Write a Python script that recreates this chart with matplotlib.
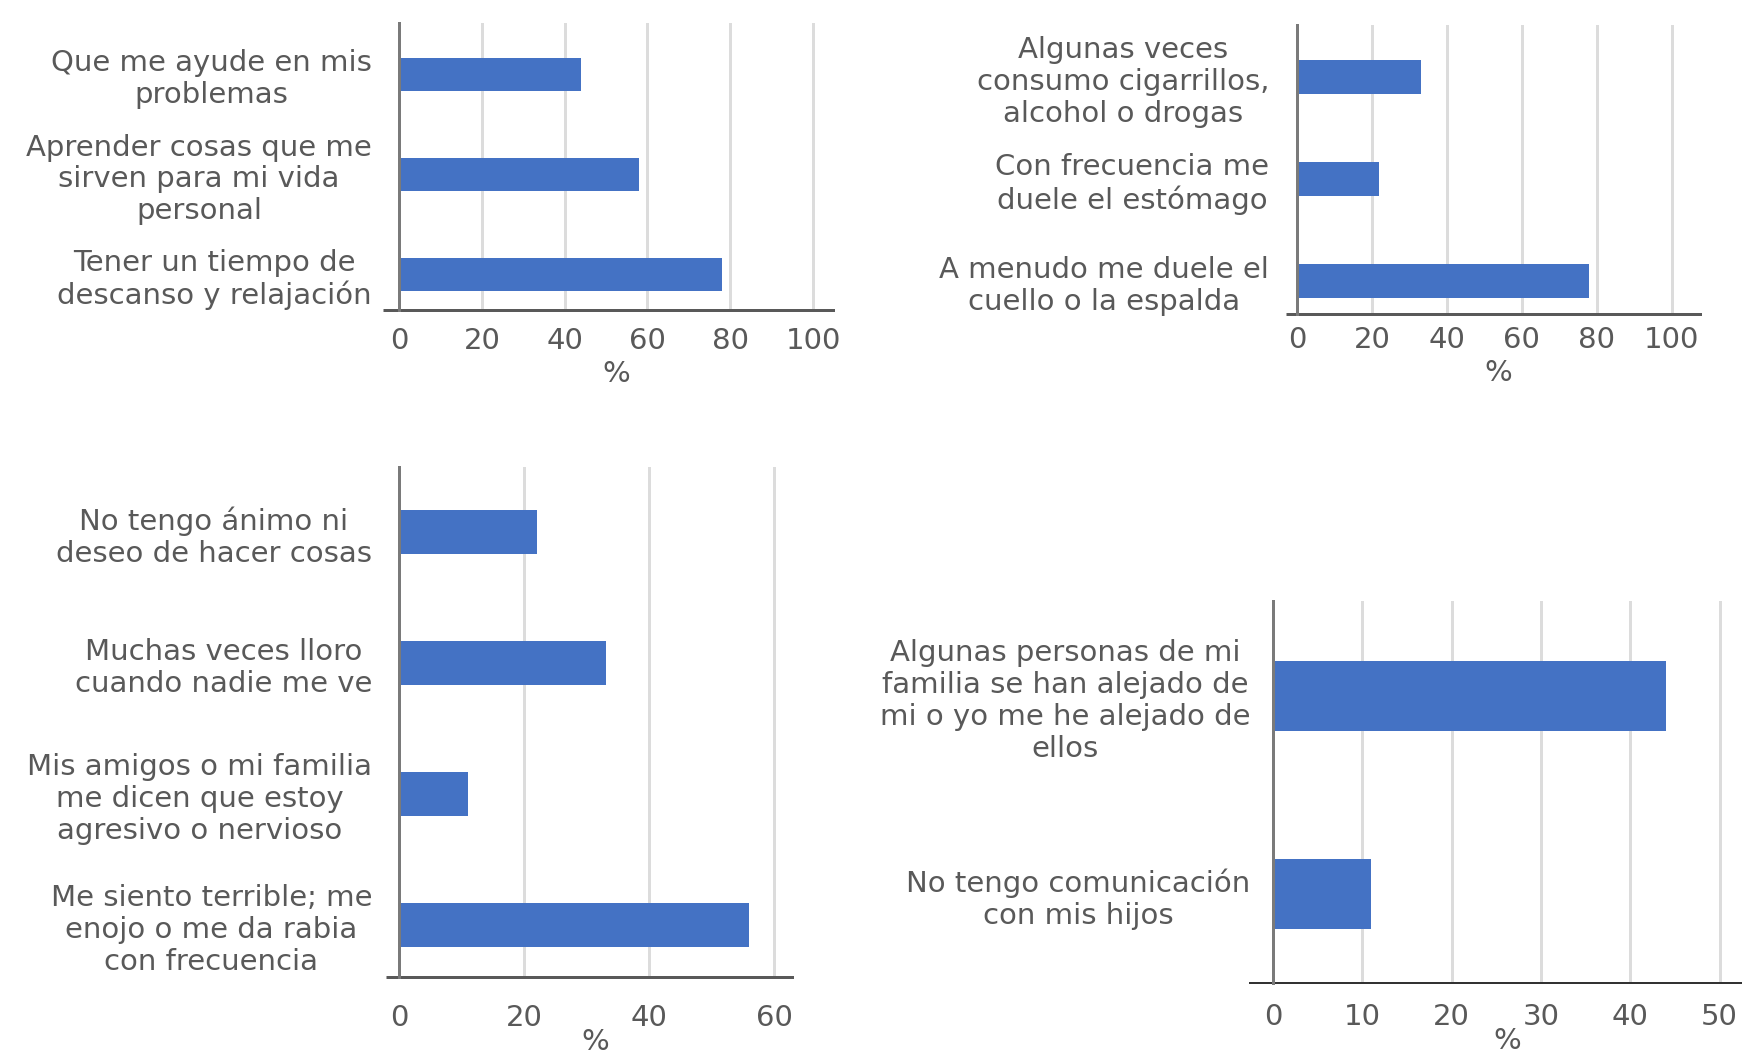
import matplotlib.pyplot as plt

W, H, DPI = 1742, 1055, 100
BLUE = "#4472C4"
TEXT = "#595959"
FS = 21

# datos (porcentajes)
razones = ["Que me ayude en mis\nproblemas",
           "Aprender cosas que me\nsirven para mi vida\npersonal",
           "Tener un tiempo de\ndescanso y relajación"]
razones_pct = [44, 58, 78]

sintomas = ["Algunas veces\nconsumo cigarrillos,\nalcohol o drogas",
            "Con frecuencia me\nduele el estómago",
            "A menudo me duele el\ncuello o la espalda"]
sintomas_pct = [33, 22, 78]

emociones = ["No tengo ánimo ni\ndeseo de hacer cosas",
             "Muchas veces lloro\ncuando nadie me ve",
             "Mis amigos o mi familia\nme dicen que estoy\nagresivo o nervioso",
             "Me siento terrible; me\nenojo o me da rabia\ncon frecuencia"]
emociones_pct = [22, 33, 11, 56]

familia = ["Algunas personas de mi\nfamilia se han alejado de\nmi o yo me he alejado de\nellos",
           "No tengo comunicación\ncon mis hijos"]
familia_pct = [44, 11]


def px(v):
    # pixels -> points
    return v * 72 / DPI


def panel(fig, box, labels, values, xmax, ylim, xticks, bh,
          ypad, xpad, lpad, stub_x, stub_y, bottom_color="#595959", bottom_lw=3):
    l, t, r, b = box
    ax = fig.add_axes([l / W, 1 - b / H, (r - l) / W, (b - t) / H])
    ax.barh(range(len(values)), values, height=bh, color=BLUE, zorder=3)
    ax.set_xlim(0, xmax)
    ax.set_ylim(*ylim)
    ax.set_xticks(xticks)
    ax.set_yticks(range(len(labels)), labels)
    ax.grid(axis="x", color="#dcdcdc", lw=px(3))
    ax.set_axisbelow(True)
    for s in ("top", "right"):
        ax.spines[s].set_visible(False)
    ax.spines["left"].set_color("#7a7a7a")
    ax.spines["left"].set_linewidth(px(3))
    ax.spines["bottom"].set_color(bottom_color)
    ax.spines["bottom"].set_linewidth(px(bottom_lw))
    ax.spines["left"].set_zorder(4)
    ax.tick_params(which="major", length=0, labelsize=FS, labelcolor=TEXT)
    ax.tick_params(axis="y", which="major", pad=px(ypad))
    ax.tick_params(axis="x", which="major", pad=px(xpad))
    # small axis overhangs
    ax.set_xticks([0], minor=True)
    ax.set_yticks([ylim[0]], minor=True)
    ax.tick_params(axis="x", which="minor", length=px(stub_y), width=px(3),
                   color="#7a7a7a", direction="out")
    ax.tick_params(axis="y", which="minor", length=px(stub_x), width=px(bottom_lw),
                   color=bottom_color, direction="out")
    for lab in ax.get_yticklabels():
        lab.set_multialignment("center")
        lab.set_linespacing(1.18)
    ax.set_xlabel("%", fontsize=FS, color=TEXT, labelpad=px(lpad))
    return ax


fig = plt.figure(figsize=(W / DPI, H / DPI), dpi=DPI)

panel(fig, (399, 23, 833, 310), razones, razones_pct, 104.8, (2.355, -0.515),
      range(0, 101, 20), 0.33, ypad=27, xpad=17, lpad=5, stub_x=16, stub_y=12)
panel(fig, (1297, 25, 1700, 314), sintomas, sintomas_pct, 107.5, (2.32, -0.51),
      range(0, 101, 20), 0.333, ypad=28, xpad=12, lpad=5, stub_x=11, stub_y=9)
panel(fig, (399, 467, 792, 977), emociones, emociones_pct, 62.8, (3.40, -0.5),
      range(0, 61, 20), 0.336, ypad=27, xpad=27, lpad=-4, stub_x=13, stub_y=13)
panel(fig, (1273, 601, 1742, 983), familia, familia_pct, 52.5, (1.45, -0.48),
      range(0, 51, 10), 0.354, ypad=23, xpad=20, lpad=-4, stub_x=24, stub_y=9,
      bottom_color="#333333", bottom_lw=2)

fig.savefig("out.png", dpi=DPI, facecolor="white")
